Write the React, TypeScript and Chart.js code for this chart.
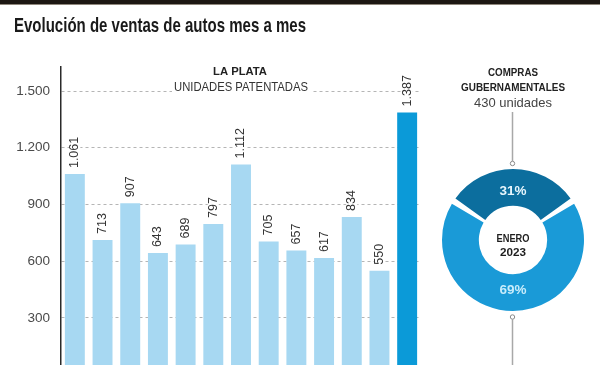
import { useEffect, useRef } from "react";
import { Chart, registerables } from "chart.js";

Chart.register(...registerables);

const months = ["Ene 22", "Feb 22", "Mar 22", "Abr 22", "May 22", "Jun 22", "Jul 22", "Ago 22", "Sep 22", "Oct 22", "Nov 22", "Dic 22", "Ene 23"];
const sales = [1061, 713, 907, 643, 689, 797, 1112, 705, 657, 617, 834, 550, 1387];
const yTicks = [300, 600, 900, 1200, 1500];
const donutLabels = ["Compras gubernamentales", "Resto"];
const donutValues = [31, 69];

const TITLE = "Evolución de ventas de autos mes a mes";
const SANS = "'Liberation Sans', Arial, sans-serif";

const fmt = (v: number) =>
  v >= 1000 ? Math.floor(v / 1000) + "." + String(v % 1000).padStart(3, "0") : String(v);

function fitText(
  ctx: CanvasRenderingContext2D,
  text: string,
  x: number,
  y: number,
  width: number,
  font: string,
  color: string,
  align: CanvasTextAlign = "center"
) {
  ctx.save();
  ctx.font = font;
  ctx.fillStyle = color;
  ctx.textBaseline = "alphabetic";
  ctx.textAlign = align;
  const w = ctx.measureText(text).width;
  ctx.translate(x, y);
  ctx.scale(width / w, 1);
  ctx.fillText(text, 0, 0);
  ctx.restore();
}

export default function App() {
  const barRef = useRef<HTMLCanvasElement>(null);
  const donutRef = useRef<HTMLCanvasElement>(null);

  useEffect(() => {
    const decor = {
      id: "decor",
      beforeDraw(chart: any) {
        const ctx = chart.ctx as CanvasRenderingContext2D;
        ctx.save();
        ctx.fillStyle = "#ffffff";
        ctx.fillRect(0, 0, chart.width, chart.height);
        ctx.restore();
      },
      afterDatasetsDraw(chart: any) {
        const ctx = chart.ctx as CanvasRenderingContext2D;
        const meta = chart.getDatasetMeta(0);
        meta.data.forEach((bar: any, i: number) => {
          const label = fmt(sales[i]);
          ctx.save();
          ctx.translate(bar.x, bar.y - 6);
          ctx.rotate(-Math.PI / 2);
          ctx.font = `12.5px ${SANS}`;
          const w = ctx.measureText(label).width;
          ctx.fillStyle = "#ffffff";
          ctx.fillRect(-1, -5.5, w + 2, 11);
          ctx.fillStyle = "#333333";
          ctx.textAlign = "left";
          ctx.textBaseline = "middle";
          ctx.fillText(label, 0, 0);
          ctx.restore();
        });
      },
      afterDraw(chart: any) {
        const ctx = chart.ctx as CanvasRenderingContext2D;
        // top band
        ctx.save();
        ctx.fillStyle = "#1c1712";
        ctx.fillRect(0, 0, 600, 4);
        ctx.fillStyle = "#8f877c";
        ctx.fillRect(0, 4, 600, 1);
        ctx.restore();
        // title
        fitText(ctx, TITLE, 14, 32, 292, `bold 21px ${SANS}`, "#1a1a1a", "left");
        // chart heading
        ctx.save();
        ctx.fillStyle = "#ffffff";
        ctx.fillRect(172, 79, 139, 15);
        ctx.restore();
        fitText(ctx, "LA PLATA", 240, 75, 54, `bold 11px ${SANS}`, "#222222");
        fitText(ctx, "UNIDADES PATENTADAS", 241, 90.5, 134, `12px ${SANS}`, "#333333");
        // right side texts
        fitText(ctx, "COMPRAS", 513, 76, 50, `bold 10px ${SANS}`, "#222222");
        fitText(ctx, "GUBERNAMENTALES", 513, 91, 104, `bold 10px ${SANS}`, "#222222");
        fitText(ctx, "430 unidades", 513, 106.5, 78, `13px ${SANS}`, "#444444");
        // connector lines
        ctx.save();
        ctx.strokeStyle = "#a8a8a8";
        ctx.lineWidth = 1.5;
        ctx.beginPath();
        ctx.moveTo(512.5, 112);
        ctx.lineTo(512.5, 161);
        ctx.moveTo(512.5, 319.5);
        ctx.lineTo(512.5, 365);
        ctx.stroke();
        ctx.lineWidth = 1;
        ctx.strokeStyle = "#8a8a8a";
        ctx.beginPath();
        ctx.arc(512.5, 163.5, 2.2, 0, Math.PI * 2);
        ctx.stroke();
        ctx.beginPath();
        ctx.arc(512.5, 317, 2.2, 0, Math.PI * 2);
        ctx.stroke();
        ctx.restore();
      },
    };

    const bar = new Chart(barRef.current!, {
      type: "bar",
      data: {
        labels: months,
        datasets: [
          {
            data: sales,
            backgroundColor: sales.map((_, i) => (i === sales.length - 1 ? "#0b9ad8" : "#a7d8f2")),
            barPercentage: 0.72,
            categoryPercentage: 1,
            borderWidth: 0,
          },
        ],
      },
      options: {
        responsive: false,
        animation: false,
        devicePixelRatio: 1,
        layout: { padding: { top: 67, right: 179, bottom: 0, left: 0 } },
        plugins: { legend: { display: false }, tooltip: { enabled: false } },
        scales: {
          x: { display: false },
          y: {
            min: 51.5,
            max: 1627,
            afterBuildTicks: (scale: any) => {
              scale.ticks = yTicks.map((v) => ({ value: v }));
            },
            afterFit: (scale: any) => {
              scale.width = 61;
              scale.paddingTop = 0;
              scale.paddingBottom = 0;
            },
            grid: { color: "#b5b5b5", lineWidth: 1, drawTicks: false },
            border: { display: true, color: "#2a2a2a", width: 1.5, dash: [3, 3] },
            ticks: {
              padding: 11,
              color: "#4a4a4a",
              font: { family: SANS, size: 13.5 },
              callback: (v: any) => fmt(Number(v)),
            },
          },
        },
      },
      plugins: [decor],
    });

    const donutText = {
      id: "donutText",
      afterDraw(chart: any) {
        const ctx = chart.ctx as CanvasRenderingContext2D;
        const cx = (chart.chartArea.left + chart.chartArea.right) / 2;
        const cy = (chart.chartArea.top + chart.chartArea.bottom) / 2;
        fitText(ctx, donutValues[0] + "%", cx, cy - 45, 27, `bold 13.5px ${SANS}`, "#e6f6fd");
        fitText(ctx, donutValues[1] + "%", cx, cy + 54, 27, `bold 13.5px ${SANS}`, "#c8ecfb");
        fitText(ctx, "ENERO", cx, cy + 1.5, 33, `bold 10.5px ${SANS}`, "#1e1e1e");
        fitText(ctx, "2023", cx, cy + 16, 26, `bold 10.5px ${SANS}`, "#1e1e1e");
      },
    };

    const donut = new Chart(donutRef.current!, {
      type: "doughnut",
      data: {
        labels: donutLabels,
        datasets: [
          {
            data: donutValues,
            backgroundColor: ["#0c6e9e", "#1a9ad7"],
            borderWidth: 0,
            spacing: 3,
            hoverOffset: 0,
          },
        ],
      },
      options: {
        responsive: false,
        animation: false,
        devicePixelRatio: 1,
        cutout: "47%",
        rotation: -55.8,
        layout: { padding: 9 },
        plugins: { legend: { display: false }, tooltip: { enabled: false } },
      },
      plugins: [donutText],
    });

    return () => {
      bar.destroy();
      donut.destroy();
    };
  }, []);

  return (
    <div
      style={{
        position: "fixed",
        left: 0,
        top: 0,
        width: 600,
        height: 365,
        overflow: "hidden",
        background: "#ffffff",
      }}
    >
      <canvas ref={barRef} width={600} height={365} style={{ position: "absolute", left: 0, top: 0 }} />
      <canvas ref={donutRef} width={160} height={160} style={{ position: "absolute", left: 433, top: 160 }} />
    </div>
  );
}
